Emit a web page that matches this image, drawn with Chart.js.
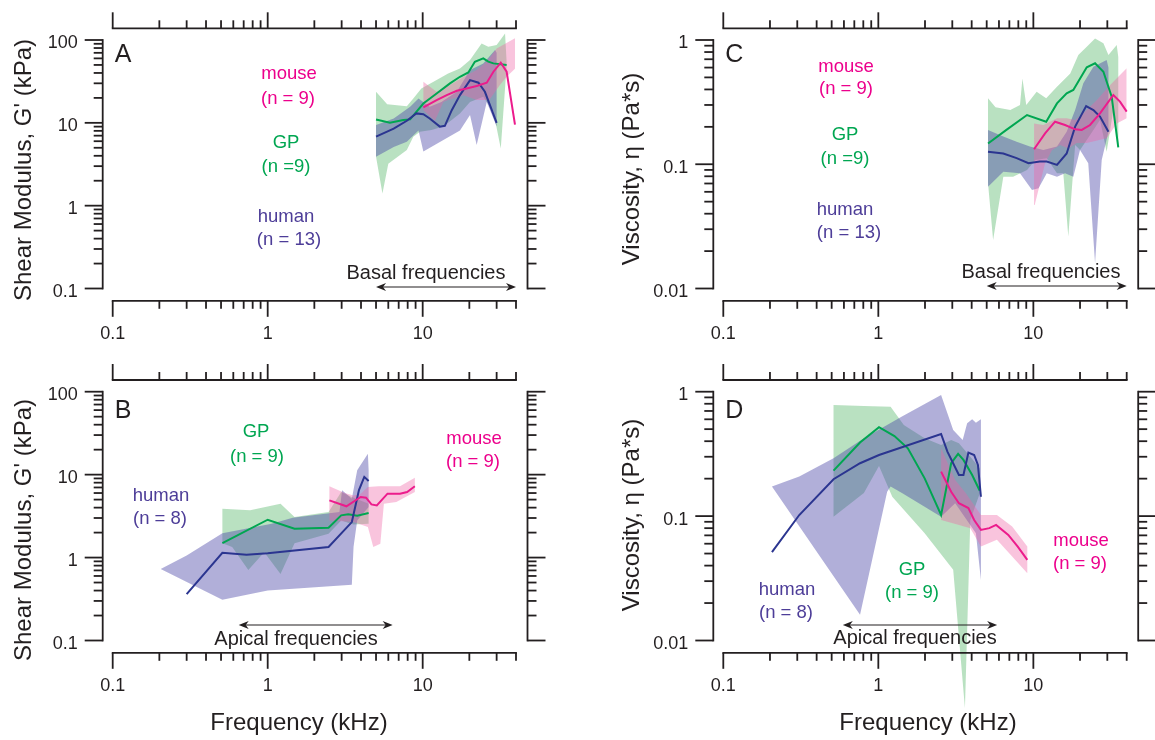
<!DOCTYPE html>
<html>
<head>
<meta charset="utf-8">
<script src="https://cdn.jsdelivr.net/npm/chart.js@4.4.1/dist/chart.umd.min.js"></script>
<style>
  html, body { margin: 0; padding: 0; background: #fff; }
  #wrap { position: relative; width: 1155px; height: 740px; overflow: hidden; }
  #wrap canvas { position: absolute; left: 0; top: 0; }
</style>
</head>
<body>
<div id="wrap">
  <canvas id="panelA" width="1155" height="740"></canvas>
  <canvas id="panelB" width="1155" height="740"></canvas>
  <canvas id="panelC" width="1155" height="740"></canvas>
  <canvas id="panelD" width="1155" height="740"></canvas>
</div>
<script>
// values: [frequency (kHz), value]
// gp = guinea pig, hu = human, ms = mouse ; line = mean, hi/lo = band edges

// A : shear modulus G' (kPa), basal
const A_gp_line = [[5.0,11.0],[6.15,10.0],[7.5,10.8],[8.3,11.0],[9.1,13.6],[10.1,17.1],[12.3,22.6],[15,29.9],[17.4,36],[19.7,40.6],[21.7,54.7],[24.6,60],[26.5,54.7],[28.6,52.2],[34.8,49.9]];
const A_gp_hi = [[5.0,23.7],[5.9,16.8],[7.9,15.9],[8.7,19.7],[9.8,26],[12.3,32.8],[14.6,39.5],[17.4,45.4],[20.2,57.3],[24,91],[26.5,83],[30,87],[34,120],[34.8,54.7]];
const A_gp_lo = [[5.0,3.9],[5.5,1.4],[6.0,3.2],[7.9,4.7],[8.7,6.8],[9.6,7.8],[11.4,8.2],[13.6,9.0],[17.4,13],[20.2,17.9],[24.6,20.6],[28.6,13.6],[31.9,4.9],[34.8,48.5]];
const A_hu_line = [[5.0,6.8],[6.5,8.5],[7.9,10.6],[9.1,13.0],[10.1,12.7],[11.1,11.3],[12.9,9.0],[13.9,9.2],[15.4,14.2],[17.4,21.6],[20.2,32.8],[22.9,30.5],[25.2,23.7],[30,10.0]];
const A_hu_hi = [[5.0,9.4],[6.5,11.3],[8.3,15.6],[9.4,19.7],[11.1,15.6],[13.2,17.9],[16.6,23.7],[20.2,43.3],[24.6,52.2],[29.3,75.7],[30,70]];
const A_hu_lo = [[5.0,3.9],[6.5,5.1],[7.9,5.9],[9.4,8.1],[10.1,4.5],[13.6,6.2],[17.4,8.1],[20.2,12.4],[22.3,5.4],[25.9,17.9],[30,9]];
const A_ms_line = [[10.1,15.4],[12.3,18.8],[14.3,21.6],[16.6,24.4],[19.2,26],[22.3,27.8],[25.9,30.5],[28.6,41.4],[31.9,53.2],[34.8,41.4],[39.4,9.5]];
const A_ms_hi = [[10.1,31.3],[12.3,23.7],[15.0,28.6],[18.4,36],[22.3,43.4],[25.9,54.7],[30,79],[39.4,105]];
const A_ms_lo = [[10.1,14.2],[12,10.6],[13.6,17.9],[14.6,18.8],[18.4,21.6],[22.3,18.8],[26.9,18.8],[31.5,28.6],[34.8,36],[39.4,45]];

// B : shear modulus G' (kPa), apical
const B_gp_line = [[0.51,1.49],[1.0,2.86],[1.49,2.23],[2.47,2.29],[2.98,3.23],[3.31,3.32],[3.78,3.2],[4.48,3.44]];
const B_gp_hi = [[0.51,3.88],[0.77,3.71],[1.21,4.47],[1.49,3.08],[2.47,3.54],[2.98,6.18],[3.49,5.37],[4.48,4.47]];
const B_gp_lo = [[0.51,1.49],[0.59,1.34],[0.75,0.71],[0.95,1.16],[1.21,0.635],[1.49,1.49],[2.47,1.94],[2.98,2.8],[3.58,2.51],[4.48,2.56]];
const B_hu_line = [[0.30,0.363],[0.51,1.14],[0.73,1.08],[1.0,1.13],[2.47,1.34],[3.49,2.68],[3.88,6.5],[4.2,9.4],[4.48,8.4]];
const B_hu_hi = [[0.204,0.73],[0.30,1.06],[0.51,1.97],[1.06,2.56],[1.45,3.03],[2.9,3.54],[3.02,6.47],[3.49,5.13],[3.78,11.3],[4.43,17.9],[4.48,11.3]];
const B_hu_lo = [[0.204,0.73],[0.51,0.31],[1.0,0.40],[3.49,0.47],[3.58,1.34],[3.78,2.8],[4.48,4.07]];
const B_ms_line = [[2.5,4.9],[3.22,4.15],[3.98,5.37],[4.31,5.27],[4.67,4.38],[5.06,4.26],[5.93,5.9],[7.14,5.9],[7.94,6.18],[8.9,7.23]];
const B_ms_hi = [[2.5,7.23],[3.14,6.0],[3.58,5.6],[3.98,5.9],[4.43,7.1],[5.19,7.23],[7.14,7.23],[8.9,9.2]];
const B_ms_lo = [[2.5,2.8],[3.58,2.68],[4.43,2.33],[4.8,1.34],[5.33,1.47],[5.62,4.47],[6.76,4.68],[8.9,6.18]];

// C : viscosity (Pa*s), basal
const C_gp_line = [[5.1,0.147],[6.7,0.189],[9.1,0.249],[12.1,0.220],[14.2,0.309],[16.4,0.372],[18.1,0.396],[22.1,0.603],[25,0.649],[28.3,0.556],[32,0.35],[35.3,0.137]];
const C_gp_hi = [[5.1,0.339],[5.7,0.287],[7.1,0.273],[8.2,0.300],[8.5,0.491],[9.0,0.300],[10.5,0.384],[12.1,0.339],[14.2,0.42],[17.3,0.538],[19.5,0.757],[22.1,0.883],[25,1.03],[28.3,0.94],[30.5,0.757],[34.5,0.91],[35.3,0.73]];
const C_gp_lo = [[5.1,0.0703],[5.5,0.0246],[6.4,0.0795],[7.4,0.0795],[9.1,0.09],[10.3,0.108],[12.2,0.112],[14.2,0.0846],[15.6,0.0846],[16.8,0.0262],[18.6,0.143],[20,0.130],[22.1,0.157],[24.4,0.189],[26.9,0.227],[29.7,0.126],[32.8,0.273],[35.3,0.134]];
const C_hu_line = [[5.1,0.126],[6.4,0.122],[7.8,0.112],[9.3,0.102],[11.0,0.105],[12.2,0.105],[14.2,0.0987],[16.4,0.122],[18.6,0.201],[21.9,0.294],[24.4,0.273],[26.9,0.242],[30.5,0.183]];
const C_hu_hi = [[5.1,0.189],[6.4,0.167],[7.8,0.152],[9.5,0.139],[11.6,0.130],[14.2,0.139],[16.4,0.183],[18.6,0.273],[21,0.448],[24.4,0.61],[29.7,0.69],[30.5,0.6]];
const C_hu_lo = [[5.1,0.066],[6.4,0.087],[8.2,0.0845],[9.8,0.062],[10.8,0.064],[12.2,0.0845],[14.2,0.0795],[16,0.0845],[18.1,0.0795],[20,0.130],[22.6,0.102],[25,0.016],[27.6,0.108],[30.5,0.183]];
const C_ms_line = [[10.1,0.132],[11.9,0.177],[13.8,0.220],[16,0.207],[18.6,0.191],[20.5,0.189],[23.2,0.207],[26.9,0.257],[32.8,0.361],[36.2,0.319],[40,0.265]];
const C_ms_hi = [[10.1,0.213],[11.6,0.207],[14.2,0.234],[16.4,0.234],[18.6,0.227],[21,0.257],[25.7,0.329],[31.3,0.434],[35.3,0.507],[40,0.592]];
const C_ms_lo = [[10.1,0.0795],[10.2,0.047],[11.9,0.102],[13.2,0.130],[14.9,0.143],[16.8,0.134],[19,0.148],[22.1,0.148],[29.7,0.162],[34.5,0.213],[40,0.234]];

// D : viscosity (Pa*s), apical
const D_gp_line = [[0.514,0.232],[0.762,0.39],[1.01,0.518],[1.27,0.44],[1.55,0.351],[1.99,0.201],[2.54,0.102],[2.95,0.266],[3.27,0.316],[3.54,0.283],[4.03,0.214],[4.51,0.16]];
const D_gp_hi = [[0.514,0.782],[0.807,0.767],[1.2,0.758],[1.46,0.54],[1.99,0.422],[2.54,0.373],[2.95,0.409],[3.31,0.385],[3.92,0.3],[4.51,0.242]];
const D_gp_lo = [[0.514,0.099],[0.807,0.153],[1.01,0.253],[1.23,0.143],[1.99,0.0728],[3.04,0.037],[3.62,0.00286],[3.92,0.093],[4.51,0.152]];
const D_hu_line = [[0.206,0.0513],[0.309,0.102],[0.514,0.198],[0.762,0.266],[1.01,0.31],[2.54,0.457],[2.79,0.33],[3.31,0.214],[3.54,0.214],[3.81,0.324],[4.15,0.31],[4.39,0.258],[4.59,0.143]];
const D_hu_hi = [[0.206,0.173],[0.309,0.208],[0.514,0.292],[0.807,0.423],[1.42,0.631],[2.54,0.94],[3.04,0.492],[3.5,0.409],[3.74,0.557],[4.03,0.6],[4.26,0.564],[4.59,0.6]];
const D_hu_lo = [[0.206,0.173],[0.762,0.0161],[1.14,0.157],[1.2,0.173],[1.42,0.153],[2.54,0.099],[3.13,0.127],[4.26,0.0728],[4.59,0.0307]];
const D_ms_line = [[2.54,0.228],[2.95,0.157],[3.31,0.127],[3.81,0.116],[4.15,0.093],[4.59,0.0775],[5.2,0.08],[5.75,0.085],[6.89,0.0706],[7.93,0.0569],[9.14,0.0445]];
const D_ms_hi = [[2.54,0.351],[3.13,0.195],[3.66,0.153],[4.59,0.102],[5.82,0.102],[7.3,0.0824],[9.14,0.0569]];
const D_ms_lo = [[2.54,0.093],[3.31,0.085],[3.92,0.0798],[4.59,0.0569],[5.82,0.0644],[7.3,0.0473],[9.14,0.0347]];

// axes
const xMajor = [0.1, 1, 10];
const xMinor = [0.2, 0.3, 0.4, 0.5, 0.6, 0.7, 0.8, 0.9, 2, 3, 4, 5, 6, 7, 8, 9, 20, 30, 40];
const xTickLabels = ['0.1', '1', '10'];
const gTickLabels = ['0.1', '1', '10', '100'];
const vTickLabels = ['0.01', '0.1', '1'];
const basalRange = [5, 40];
const apicalRangeB = [0.65, 6.4];
const apicalRangeD = [0.59, 5.84];

const INK = '#231f20';
const FONT = '"Liberation Sans", Arial, Helvetica, sans-serif';
const GP = { line: '#00a651', band: 'rgba(80,180,100,0.40)', text: '#00a651' };
const HU = { line: '#2b3590', band: 'rgba(70,65,165,0.42)', text: '#4d3d98' };
const MS = { line: '#ec1c8c', band: 'rgba(240,100,165,0.38)', text: '#ec008c' };

function seg(ctx, x1, y1, x2, y2) {
  ctx.beginPath();
  ctx.moveTo(x1, y1);
  ctx.lineTo(x2, y2);
  ctx.stroke();
}

function txt(ctx, s, x, y, size, color, align) {
  ctx.font = size + 'px ' + FONT;
  ctx.fillStyle = color;
  ctx.textAlign = align || 'center';
  ctx.textBaseline = 'middle';
  ctx.fillText(s, x, y);
}

function arrowHead(ctx, x, y, dir) {
  ctx.beginPath();
  ctx.moveTo(x, y);
  ctx.lineTo(x - dir * 10, y - 4);
  ctx.lineTo(x - dir * 7, y);
  ctx.lineTo(x - dir * 10, y + 4);
  ctx.closePath();
  ctx.fill();
}

function yTicksFor(labels) {
  const major = labels.map(parseFloat);
  const minor = [];
  for (let i = 0; i < major.length - 1; i++) {
    for (let k = 2; k <= 9; k++) minor.push(major[i] * k);
  }
  return { major, minor };
}

// draws the detached frame, ticks and all texts of one panel
function framePlugin(p) {
  return {
    id: 'frame' + p.letter,
    afterDraw(chart) {
      const ctx = chart.ctx;
      const xs = chart.scales.x, ys = chart.scales.y;
      const L = xs.getPixelForValue(0.1), R = xs.getPixelForValue(40);
      const T = ys.getPixelForValue(p.yShown[1]), B = ys.getPixelForValue(p.yShown[0]);
      const top = T - 11.7, bottom = B + 12.3, left = L - 10, right = R + 11.5;
      const yt = yTicksFor(p.yLabels);

      ctx.save();
      ctx.strokeStyle = INK;
      ctx.fillStyle = INK;
      ctx.lineWidth = 1.8;
      ctx.lineCap = 'square';
      seg(ctx, L, top, R, top);
      seg(ctx, L, bottom, R, bottom);
      seg(ctx, left, T, left, B);
      seg(ctx, right, T, right, B);
      ctx.lineCap = 'butt';
      xMajor.forEach(v => {
        const px = xs.getPixelForValue(v);
        seg(ctx, px, top, px, top - 16);
        seg(ctx, px, bottom, px, bottom + 16);
      });
      xMinor.forEach(v => {
        const px = xs.getPixelForValue(v);
        seg(ctx, px, top, px, top - 8);
        seg(ctx, px, bottom, px, bottom + 8);
      });
      yt.major.forEach(v => {
        const py = ys.getPixelForValue(v);
        seg(ctx, left, py, left - 18, py);
        seg(ctx, right, py, right + 18, py);
      });
      yt.minor.forEach(v => {
        const py = ys.getPixelForValue(v);
        seg(ctx, left, py, left - 9, py);
        seg(ctx, right, py, right + 9, py);
      });

      // tick labels
      xMajor.forEach((v, i) => txt(ctx, xTickLabels[i], xs.getPixelForValue(v), bottom + 33, 18, INK));
      yt.major.forEach((v, i) => txt(ctx, p.yLabels[i], left - 25, ys.getPixelForValue(v) + 3.5, 18, INK, 'right'));

      // axis titles
      ctx.save();
      ctx.translate(p.yTitlePos[0], p.yTitlePos[1]);
      ctx.rotate(-Math.PI / 2);
      txt(ctx, p.yTitle, 0, 0, 24, INK);
      ctx.restore();
      if (p.xTitlePos) txt(ctx, 'Frequency (kHz)', p.xTitlePos[0], p.xTitlePos[1], 24, INK);

      // panel letter
      ctx.font = '25px ' + FONT;
      ctx.fillStyle = INK;
      ctx.textAlign = 'left';
      ctx.textBaseline = 'alphabetic';
      ctx.fillText(p.letter, L + 2, p.letterY);

      // species labels
      p.notes.forEach(n => txt(ctx, n[0], n[2], n[3], 18.5, n[1].text));

      // frequency range arrow
      const a = p.arrow;
      const x1 = xs.getPixelForValue(a.range[0]), x2 = xs.getPixelForValue(a.range[1]);
      ctx.strokeStyle = INK;
      ctx.fillStyle = INK;
      ctx.lineWidth = 1.2;
      seg(ctx, x1 + 4, a.y, x2 - 4, a.y);
      arrowHead(ctx, x1, a.y, -1);
      arrowHead(ctx, x2, a.y, 1);
      txt(ctx, a.label, a.lx, a.ly, 20, INK);
      ctx.restore();
    }
  };
}

function bandSet(hi, lo, color, order) {
  const pts = hi.concat(lo.slice().reverse()).map(p => ({ x: p[0], y: p[1] }));
  return {
    data: pts, fill: 'shape', backgroundColor: color, borderColor: 'rgba(0,0,0,0)',
    borderWidth: 0, pointRadius: 0, order: order, clip: false
  };
}

function lineSet(line, color, order) {
  return {
    data: line.map(p => ({ x: p[0], y: p[1] })), fill: false, borderColor: color,
    borderWidth: 2, pointRadius: 0, tension: 0, order: order, clip: false
  };
}

function makePanel(p) {
  // plot box in page pixels, extended vertically so out-of-range band spikes still show
  const perDec = (p.box.b - p.box.t) / Math.log10(p.yShown[1] / p.yShown[0]);
  const areaTop = p.box.t - perDec * Math.log10(p.yExt[1] / p.yShown[1]);
  const areaBottom = p.box.b + perDec * Math.log10(p.yShown[0] / p.yExt[0]);
  const s = p.series;
  new Chart(document.getElementById(p.id).getContext('2d'), {
    type: 'line',
    data: {
      datasets: [
        lineSet(s.ms[0], MS.line, 1),
        lineSet(s.hu[0], HU.line, 2),
        lineSet(s.gp[0], GP.line, 3),
        bandSet(s.ms[1], s.ms[2], MS.band, 10),
        bandSet(s.hu[1], s.hu[2], HU.band, 11),
        bandSet(s.gp[1], s.gp[2], GP.band, 12)
      ]
    },
    options: {
      responsive: false,
      animation: false,
      events: [],
      layout: { padding: { left: p.box.l, right: 1155 - p.box.r, top: areaTop, bottom: 740 - areaBottom } },
      plugins: { legend: { display: false }, tooltip: { enabled: false } },
      scales: {
        x: { type: 'logarithmic', min: 0.1, max: 40, display: false },
        y: { type: 'logarithmic', min: p.yExt[0], max: p.yExt[1], display: false }
      }
    },
    plugins: [framePlugin(p)]
  });
}

const panels = [
  {
    id: 'panelA', letter: 'A', letterY: 62,
    box: { l: 112.7, r: 516, t: 40, b: 288.5 }, yShown: [0.1, 100], yExt: [0.1, 150],
    yLabels: gTickLabels, yTitle: "Shear Modulus, G' (kPa)", yTitlePos: [24, 170], xTitlePos: null,
    series: { gp: [A_gp_line, A_gp_hi, A_gp_lo], hu: [A_hu_line, A_hu_hi, A_hu_lo], ms: [A_ms_line, A_ms_hi, A_ms_lo] },
    notes: [['mouse', MS, 289, 74], ['(n = 9)', MS, 288, 99], ['GP', GP, 286, 143], ['(n =9)', GP, 286, 167],
            ['human', HU, 286, 217], ['(n = 13)', HU, 289, 240]],
    arrow: { range: basalRange, y: 287, label: 'Basal frequencies', lx: 426, ly: 273 }
  },
  {
    id: 'panelB', letter: 'B', letterY: 418,
    box: { l: 112.7, r: 516, t: 391.7, b: 640.5 }, yShown: [0.1, 100], yExt: [0.1, 150],
    yLabels: gTickLabels, yTitle: "Shear Modulus, G' (kPa)", yTitlePos: [24, 530], xTitlePos: [299, 723],
    series: { gp: [B_gp_line, B_gp_hi, B_gp_lo], hu: [B_hu_line, B_hu_hi, B_hu_lo], ms: [B_ms_line, B_ms_hi, B_ms_lo] },
    notes: [['GP', GP, 256, 432], ['(n = 9)', GP, 257, 457], ['mouse', MS, 474, 439], ['(n = 9)', MS, 473, 462],
            ['human', HU, 161, 496], ['(n = 8)', HU, 160, 519]],
    arrow: { range: apicalRangeB, y: 625, label: 'Apical frequencies', lx: 296, ly: 639 }
  },
  {
    id: 'panelC', letter: 'C', letterY: 62,
    box: { l: 723.3, r: 1126.7, t: 40, b: 288.5 }, yShown: [0.01, 1], yExt: [0.002, 1.5],
    yLabels: vTickLabels, yTitle: 'Viscosity, \u03b7 (Pa*s)', yTitlePos: [632, 169], xTitlePos: null,
    series: { gp: [C_gp_line, C_gp_hi, C_gp_lo], hu: [C_hu_line, C_hu_hi, C_hu_lo], ms: [C_ms_line, C_ms_hi, C_ms_lo] },
    notes: [['mouse', MS, 846, 67], ['(n = 9)', MS, 846, 89], ['GP', GP, 845, 135], ['(n =9)', GP, 845, 159],
            ['human', HU, 845, 210], ['(n = 13)', HU, 849, 233]],
    arrow: { range: basalRange, y: 286, label: 'Basal frequencies', lx: 1041, ly: 272 }
  },
  {
    id: 'panelD', letter: 'D', letterY: 418,
    box: { l: 723.3, r: 1126.7, t: 391.7, b: 640.5 }, yShown: [0.01, 1], yExt: [0.002, 1.5],
    yLabels: vTickLabels, yTitle: 'Viscosity, \u03b7 (Pa*s)', yTitlePos: [632, 515], xTitlePos: [928, 723],
    series: { gp: [D_gp_line, D_gp_hi, D_gp_lo], hu: [D_hu_line, D_hu_hi, D_hu_lo], ms: [D_ms_line, D_ms_hi, D_ms_lo] },
    notes: [['mouse', MS, 1081, 541], ['(n = 9)', MS, 1080, 564], ['GP', GP, 912, 570], ['(n = 9)', GP, 912, 593],
            ['human', HU, 787, 590], ['(n = 8)', HU, 786, 613]],
    arrow: { range: apicalRangeD, y: 625, label: 'Apical frequencies', lx: 915, ly: 638 }
  }
];

panels.forEach(makePanel);
</script>
</body>
</html>
